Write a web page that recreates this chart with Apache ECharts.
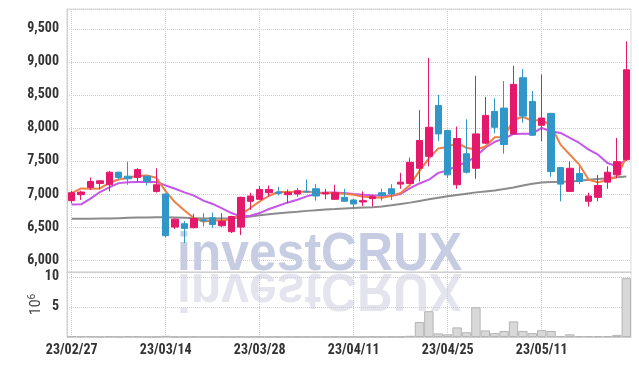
<!DOCTYPE html>
<html>
<head>
<meta charset="utf-8">
<script src="https://cdn.jsdelivr.net/npm/echarts@6.0.0/dist/echarts.min.js"></script>
<style>
  html, body { margin: 0; padding: 0; background: #fff; }
  #chart { width: 639px; height: 366px; }
</style>
</head>
<body>
<div id="chart"></div>
<script>
// trading days shown on the chart
const dates = [
  '23/02/27','23/02/28','23/03/02','23/03/03','23/03/06','23/03/07','23/03/08','23/03/09','23/03/10','23/03/13',
  '23/03/14','23/03/15','23/03/16','23/03/17','23/03/20','23/03/21','23/03/22','23/03/23','23/03/24','23/03/27',
  '23/03/28','23/03/29','23/03/30','23/03/31','23/04/03','23/04/04','23/04/05','23/04/06','23/04/07','23/04/10',
  '23/04/11','23/04/12','23/04/13','23/04/14','23/04/17','23/04/18','23/04/19','23/04/20','23/04/21','23/04/24',
  '23/04/25','23/04/26','23/04/27','23/04/28','23/05/02','23/05/03','23/05/04','23/05/08','23/05/09','23/05/10',
  '23/05/11','23/05/12','23/05/15','23/05/16','23/05/17','23/05/18','23/05/19','23/05/22','23/05/23','23/05/24'
];
const opens = [
  6900, 6990, 7100, 7160, 7140, 7330, 7270, 7250, 7270, 7040,
  7000, 6500, 6550, 6490, 6610, 6640, 6520, 6430, 6500, 6890,
  6920, 7020, 7030, 6990, 7000, 7040, 7080, 7000, 6920, 6950,
  6910, 6880, 6930, 7020, 7080, 7150, 7160, 7390, 7570, 8340,
  7960, 7140, 7610, 7390, 7770, 8250, 8300, 7910, 8760, 8400,
  8040, 8220, 7400, 7040, 7310, 6890, 6950, 7180, 7290, 7520
];
const closes = [
  7020, 7030, 7190, 7200, 7330, 7250, 7230, 7370, 7190, 7140,
  6370, 6620, 6480, 6630, 6590, 6540, 6590, 6660, 6950, 6970,
  7070, 7070, 7010, 7020, 7050, 7030, 6970, 7020, 7020, 6890,
  6850, 6900, 6960, 6980, 7000, 7180, 7480, 7810, 8010, 7910,
  7290, 7840, 7330, 7910, 8190, 8010, 7750, 8660, 8180, 7890,
  8150, 7340, 7150, 7390, 7190, 6970, 7130, 7330, 7490, 8880
];
const lows = [
  6860, 6910, 7060, 7070, 7040, 7220, 7140, 7190, 7130, 7020,
  6340, 6470, 6260, 6480, 6510, 6490, 6500, 6410, 6380, 6760,
  6910, 6960, 6980, 6860, 6960, 7020, 6900, 6920, 6910, 6880,
  6790, 6820, 6810, 6900, 6910, 7080, 7150, 7190, 7420, 7800,
  7240, 7080, 7310, 7230, 7760, 7920, 7610, 7900, 8080, 7880,
  7800, 7260, 6890, 7030, 7150, 6810, 6890, 7080, 7240, 7500
];
const highs = [
  7050, 7050, 7250, 7210, 7350, 7340, 7490, 7390, 7270, 7390,
  7010, 6630, 6590, 6700, 6710, 6720, 6710, 6670, 6960, 7020,
  7120, 7130, 7110, 7070, 7090, 7220, 7150, 7080, 7140, 7080,
  6930, 7040, 6990, 7080, 7150, 7320, 7550, 8270, 9060, 8500,
  7970, 8020, 8130, 8790, 8470, 8450, 8710, 8940, 8890, 8560,
  8810, 8230, 7410, 7490, 7420, 7020, 7290, 7420, 7850, 9310
];
const ma5 = [
  7015, 7085, 7080, 7085, 7170, 7220, 7245, 7275, 7280, 7245,
  7040, 6875, 6750, 6636, 6585, 6600, 6600, 6620, 6686, 6788,
  6888, 6974, 7030, 7030, 7035, 7040, 7024, 7015, 7015, 7004,
  6989, 6960, 6950, 6945, 6970, 7015, 7140, 7350, 7540, 7690,
  7712, 7775, 7700, 7670, 7720, 7860, 7863, 8125, 8166, 8110,
  8125, 8034, 7747, 7595, 7444, 7217, 7176, 7217, 7257, 7560
];
const ma20 = [
  6840, 6845, 6930, 7030, 7100, 7165, 7178, 7182, 7182, 7182,
  7130, 7080, 7025, 6975, 6900, 6850, 6782, 6712, 6661, 6671,
  6712, 6773, 6823, 6873, 6914, 6964, 7004, 7024, 7024, 7015,
  7000, 6990, 6980, 6974, 6975, 7000, 7090, 7160, 7217, 7320,
  7358, 7430, 7480, 7570, 7700, 7790, 7838, 7909, 7913, 7913,
  8000, 7949, 7924, 7848, 7773, 7671, 7595, 7470, 7418, 7520
];
const ma60 = [
  6625, 6625, 6626, 6628, 6630, 6635, 6640, 6643, 6646, 6648,
  6648, 6645, 6640, 6635, 6630, 6628, 6630, 6632, 6640, 6660,
  6680, 6695, 6710, 6720, 6730, 6745, 6755, 6765, 6772, 6780,
  6788, 6795, 6800, 6812, 6830, 6850, 6870, 6895, 6920, 6945,
  6965, 6985, 7005, 7025, 7040, 7055, 7075, 7100, 7130, 7155,
  7176, 7182, 7186, 7191, 7200, 7215, 7228, 7240, 7255, 7267
];
// volume, millions of shares
const volumes = [
  0.15, 0.15, 0.12, 0.04, 0.15, 0.04, 0.14, 0.14, 0.04, 0.05,
  0.20, 0.05, 0.04, 0.06, 0.03, 0.04, 0.05, 0.03, 0.06, 0.04,
  0.05, 0.03, 0.04, 0.03, 0.05, 0.04, 0.03, 0.04, 0.05, 0.03,
  0.04, 0.03, 0.05, 0.04, 0.06, 0.05, 0.20, 2.50, 4.30, 0.60,
  0.45, 1.60, 0.80, 4.95, 1.10, 0.65, 1.00, 2.60, 1.00, 0.65,
  1.15, 1.00, 0.15, 0.45, 0.15, 0.15, 0.15, 0.15, 0.35, 9.80
];

const upColor = '#e5196b';
const downColor = '#3197c8';
const gridLine = { show: true, lineStyle: { color: '#c9cde0', type: 'dotted', width: 1 } };
const labelFont = "'Roboto Condensed', Roboto, sans-serif";
const labelStyle = { color: '#333', fontSize: 14, fontWeight: 'bold', fontFamily: labelFont };

const myChart = echarts.init(document.getElementById('chart'));

const option = {
  animation: false,
  graphic: [
    {
      type: 'text', z: -10, x: 177, y: 272, scaleX: 0.94,
      style: { text: 'investCRUX', x: 0, y: -17, font: "bold 53px 'Liberation Sans', Arial, sans-serif",
        fill: '#c6cde3', textAlign: 'left', textVerticalAlign: 'middle', align: 'left', verticalAlign: 'middle' }
    },
    {
      type: 'text', z: -10, x: 177, y: 272, scaleX: 0.94, scaleY: -1,
      style: { text: 'investCRUX', x: 0, y: -17, font: "bold 53px 'Liberation Sans', Arial, sans-serif",
        fill: '#e4e4ee', textAlign: 'left', textVerticalAlign: 'middle', align: 'left', verticalAlign: 'middle' }
    }
  ],
  grid: [
    { left: 67, right: 8, top: 9, height: 263, show: true, borderColor: '#d9d9d9', borderWidth: 1 },
    { left: 67, right: 8, top: 272, height: 65, show: true, borderColor: '#d9d9d9', borderWidth: 1 }
  ],
  xAxis: [
    {
      type: 'category', gridIndex: 0, data: dates, boundaryGap: true,
      axisLabel: { show: false }, axisTick: { show: false },
      axisLine: { lineStyle: { color: '#cfcfcf' } },
      splitLine: Object.assign({ interval: 9, alignWithLabel: true }, gridLine)
    },
    {
      type: 'category', gridIndex: 1, data: dates, boundaryGap: true,
      axisTick: { show: false },
      axisLine: { lineStyle: { color: '#cfcfcf' } },
      axisLabel: Object.assign({ interval: 9, margin: 6 }, labelStyle),
      splitLine: Object.assign({ interval: 9, alignWithLabel: true }, gridLine)
    }
  ],
  yAxis: [
    {
      type: 'value', gridIndex: 0, min: 5820, max: 9800, splitNumber: 8,
      axisLine: { show: true, lineStyle: { color: '#c9cde0' } },
      axisTick: { show: false },
      axisLabel: Object.assign({
        margin: 8, showMinLabel: false, showMaxLabel: false,
        formatter: (v) => v.toLocaleString('en-US')
      }, labelStyle),
      splitLine: gridLine
    },
    {
      type: 'value', gridIndex: 1, min: 0, max: 10.83, splitNumber: 2,
      axisLine: { show: true, lineStyle: { color: '#c9cde0' } },
      axisTick: { show: false },
      axisLabel: Object.assign({ margin: 8, showMinLabel: false, showMaxLabel: false }, labelStyle),
      splitLine: gridLine,
      name: '{b|10}{s|6}', nameLocation: 'middle', nameRotate: 90, nameGap: 22,
      nameMoveOverlap: false,
      nameTextStyle: {
        rich: {
          b: { fontSize: 14, color: '#444', fontFamily: 'Roboto' },
          s: { fontSize: 10, color: '#444', fontFamily: 'Roboto', verticalAlign: 'top', lineHeight: 18 }
        }
      }
    }
  ],
  series: [
    {
      name: 'Volume', type: 'bar', xAxisIndex: 1, yAxisIndex: 1,
      barCategoryGap: '0%', data: volumes,
      itemStyle: { color: '#d8d8d8', borderColor: '#b5b5b5', borderWidth: 1 }
    },
    {
      name: 'MA60', type: 'line', xAxisIndex: 0, yAxisIndex: 0, data: ma60, symbol: 'none',
      lineStyle: { color: '#777', width: 2, opacity: 0.85 }, z: 2
    },
    {
      name: 'MA20', type: 'line', xAxisIndex: 0, yAxisIndex: 0, data: ma20, symbol: 'none',
      lineStyle: { color: '#c656e8', width: 2 }, z: 2
    },
    {
      name: 'MA5', type: 'line', xAxisIndex: 0, yAxisIndex: 0, data: ma5, symbol: 'none',
      lineStyle: { color: '#ee8044', width: 2 }, z: 2
    },
    {
      name: 'Price', type: 'candlestick', xAxisIndex: 0, yAxisIndex: 0, barWidth: 7, z: 3,
      data: dates.map((d, i) => [opens[i], closes[i], lows[i], highs[i]]),
      itemStyle: { color: upColor, color0: downColor, borderColor: upColor, borderColor0: downColor, borderWidth: 1 }
    }
  ]
};

myChart.setOption(option);
window.addEventListener('resize', () => { myChart.resize(); });
</script>
</body>
</html>
